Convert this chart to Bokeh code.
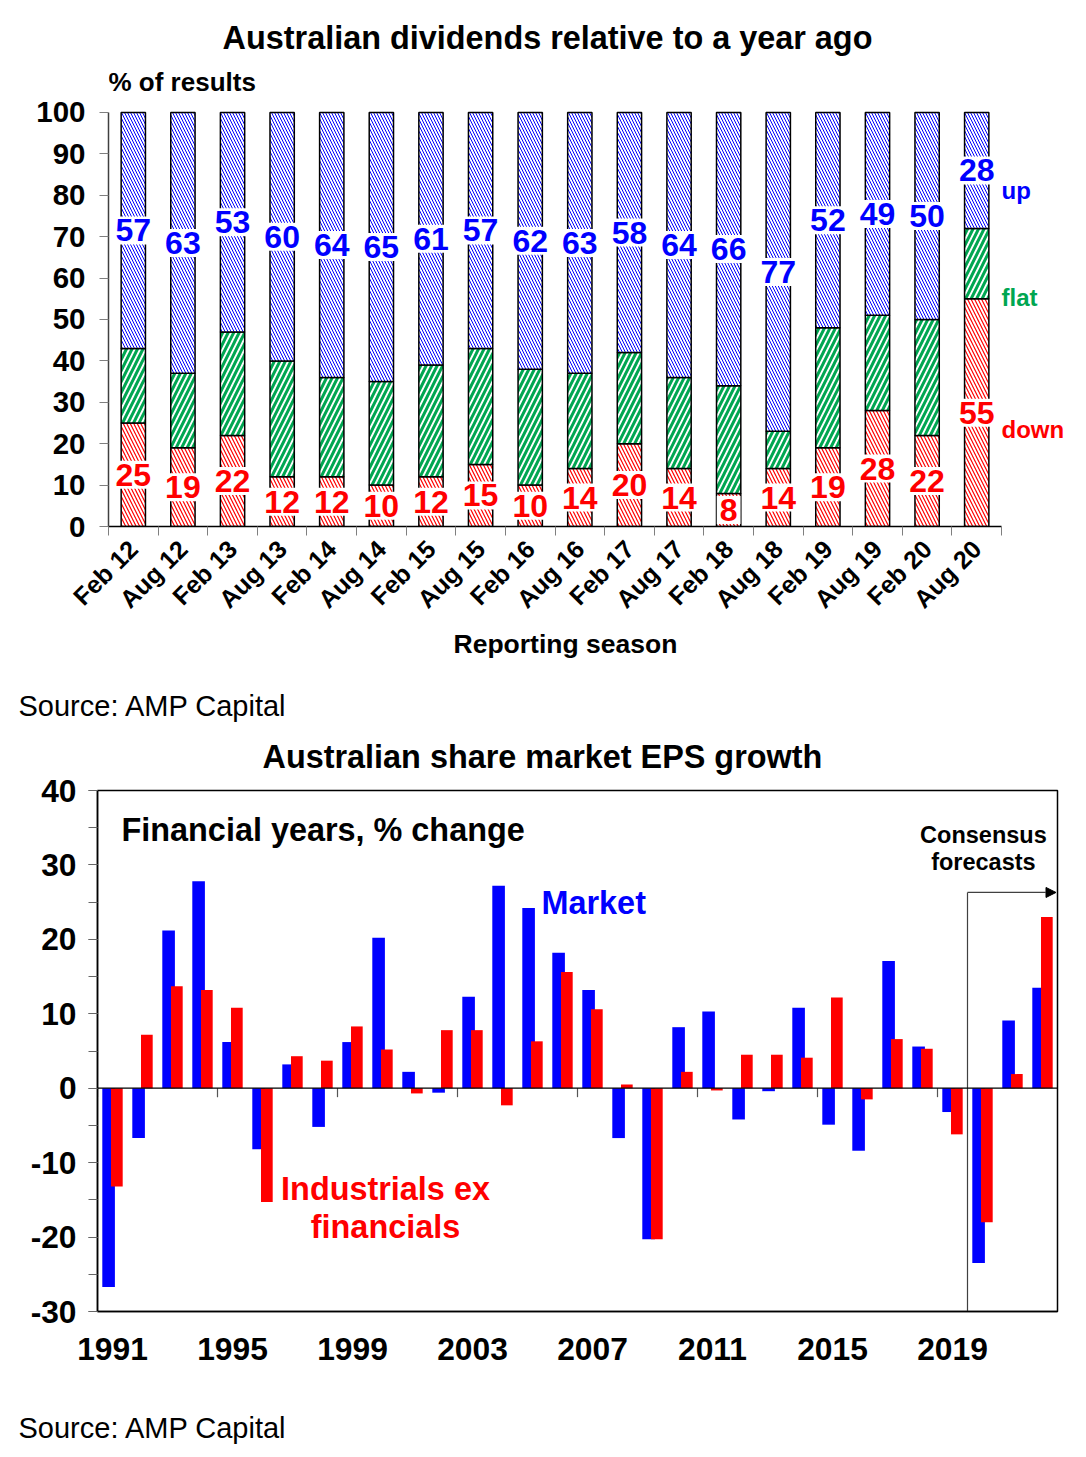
import math
from bokeh.plotting import figure
from bokeh.models import (ColumnDataSource, FixedTicker, Range1d, Title,
                          Span, Arrow, NormalHead)
from bokeh.transform import dodge
from bokeh.core.properties import value
from bokeh.embed import file_html
from bokeh.resources import INLINE

FONT = "Liberation Sans"

# ---------------- Chart 1 data: dividends relative to a year ago ----------------
seasons = ["Feb 12", "Aug 12", "Feb 13", "Aug 13", "Feb 14", "Aug 14", "Feb 15",
           "Aug 15", "Feb 16", "Aug 16", "Feb 17", "Aug 17", "Feb 18", "Aug 18",
           "Feb 19", "Aug 19", "Feb 20", "Aug 20"]
down = [25, 19, 22, 12, 12, 10, 12, 15, 10, 14, 20, 14, 8, 14, 19, 28, 22, 55]
flat = [18, 18, 25, 28, 24, 25, 27, 28, 28, 23, 22, 22, 26, 9, 29, 23, 28, 17]
up = [57, 63, 53, 60, 64, 65, 61, 57, 62, 63, 58, 64, 66, 77, 52, 49, 50, 28]
y_ticks_1 = list(range(0, 101, 10))

# ---------------- Chart 2 data: EPS growth ----------------
years = list(range(1991, 2023))
market = [-26.7, -6.7, 21.2, 27.8, 6.2, -8.2, 3.2, -5.2, 6.2, 20.2, 2.2, -0.6,
          12.3, 27.2, 24.2, 18.2, 13.2, -6.7, -20.3, 8.2, 10.3, -4.2, -0.4, 10.8,
          -4.9, -8.4, 17.1, 5.6, -3.2, -23.5, 9.1, 13.5]
industrials = [-13.2, 7.2, 13.7, 13.2, 10.8, -15.3, 4.3, 3.7, 8.3, 5.2, -0.7, 7.8,
               7.8, -2.3, 6.3, 15.6, 10.6, 0.5, -20.3, 2.2, -0.3, 4.5, 4.5, 4.1,
               12.2, -1.5, 6.6, 5.3, -6.2, -18.0, 1.9, 23.0]
label_years = [1991, 1995, 1999, 2003, 2007, 2011, 2015, 2019]
y_ticks_2 = list(range(-30, 41, 10))
y_minor_2 = list(range(-30, 41, 5))
forecast_start = 2020


def txt(p, x, y, text, size, color="black", bold=True, align="left"):
    p.text(x=[x], y=[y], text=[text], text_color=color, text_font=value(FONT),
           text_font_style="bold" if bold else "normal", text_font_size=size,
           text_align=align, text_baseline="middle")


def clean(p):
    p.xgrid.visible = False
    p.ygrid.visible = False
    p.background_fill_color = "white"
    p.border_fill_color = "white"


# =============================== Figure 1 ===============================
idx = list(range(len(seasons)))
src1 = ColumnDataSource(dict(
    x=idx, down=down, flat=flat, up=up,
    up_y=[d + f + u / 2 for d, f, u in zip(down, flat, up)],
    down_y=[d / 2 for d in down],
    up_txt=[str(u) for u in up],
    down_txt=[str(d) for d in down],
))

x_first = -0.5
x_last = len(seasons) - 0.5
# frame extends above 100 and right of the last bar to hold the titles / side notes
p1 = figure(width=1070, height=660, x_range=Range1d(x_first, 18.85),
            y_range=Range1d(0, 127.05), output_backend="svg", toolbar_location=None,
            title=None, min_border_left=108, min_border_right=2,
            min_border_top=0, min_border_bottom=134)
clean(p1)
p1.outline_line_color = None

p1.vbar_stack(["down", "flat", "up"], x="x", width=0.49, source=src1,
              fill_color="white", line_color="black", line_width=1.5,
              hatch_pattern=["\\", "/", "\\"],
              hatch_color=["#FF0000", "#00A651", "#0000FF"],
              hatch_scale=[7, 11, 6], hatch_weight=[1.2, 3, 1])

p1.text(x="x", y="up_y", text="up_txt", source=src1, text_color="#0000FF",
        text_font=value(FONT), text_font_style="bold", text_font_size="32px",
        text_align="center", text_baseline="middle",
        background_fill_color="white", padding=3)
p1.text(x="x", y="down_y", text="down_txt", source=src1, text_color="#FF0000",
        text_font=value(FONT), text_font_style="bold", text_font_size="32px",
        text_align="center", text_baseline="middle",
        background_fill_color="white", padding=3)

for t, yv, col in [("up", 81.2, "#0000FF"), ("flat", 55.3, "#00A651"),
                   ("down", 23.4, "#FF0000")]:
    txt(p1, x_last, yv, t, "24px", color=col)

txt(p1, 1.8, 117.9, "Australian dividends relative to a year ago", "32.4px")
txt(p1, x_first, 107.3, "% of results", "26px")

yax = p1.yaxis[0]
yax.ticker = FixedTicker(ticks=y_ticks_1)
yax.bounds = (0, 100)
yax.major_label_text_font = FONT
yax.major_label_text_font_size = "29.5px"
yax.major_label_text_font_style = "bold"
yax.major_label_text_color = "black"
yax.major_tick_out = 9
yax.major_tick_in = 0
yax.minor_tick_line_color = None
yax.major_tick_line_color = "#7f7f7f"
yax.axis_line_color = "#404040"
yax.axis_line_width = 1.5
yax.major_label_standoff = 14

xax = p1.xaxis[0]
xax.ticker = FixedTicker(ticks=idx, minor_ticks=[i - 0.5 for i in range(len(seasons) + 1)])
xax.bounds = (x_first, x_last)
xax.major_label_overrides = {i: s for i, s in enumerate(seasons)}
xax.major_tick_line_color = None
xax.major_tick_out = 0
xax.major_tick_in = 0
xax.minor_tick_out = 9
xax.minor_tick_in = 0
xax.minor_tick_line_color = "#7f7f7f"
xax.axis_line_color = "black"
xax.axis_line_width = 1.5
xax.major_label_orientation = math.pi / 4
xax.major_label_text_font = FONT
xax.major_label_text_font_size = "25px"
xax.major_label_text_font_style = "bold"
xax.major_label_text_color = "black"
xax.major_label_standoff = 9

p1.add_layout(Title(text="Reporting season", align="left", offset=345,
                    text_font=FONT, text_font_size="26.5px", text_font_style="bold",
                    text_color="black", standoff=0), "below")

# =============================== Figure 2 ===============================
src2 = ColumnDataSource(dict(year=years, market=market, ind=industrials))

p2 = figure(width=1070, height=711, x_range=Range1d(years[0] - 0.5, years[-1] + 0.5),
            y_range=Range1d(-30, 40), output_backend="svg", toolbar_location=None,
            title=None, min_border_left=97, min_border_right=13,
            min_border_top=130, min_border_bottom=60)
clean(p2)
p2.outline_line_color = "black"
p2.outline_line_width = 1.5

p2.vbar(x=dodge("year", -0.13, range=p2.x_range), top="market", bottom=0,
        width=0.42, source=src2, fill_color="#0000FF", line_color=None)
p2.vbar(x=dodge("year", 0.145, range=p2.x_range), top="ind", bottom=0,
        width=0.39, source=src2, fill_color="#FF0000", line_color=None)

p2.add_layout(Span(location=0, dimension="width", line_color="black", line_width=1.3))
p2.segment(x0=[y - 0.5 for y in label_years], y0=0,
           x1=[y - 0.5 for y in label_years], y1=-1.2,
           line_color="#555555", line_width=1.2)

# forecast bracket
p2.segment(x0=[forecast_start - 0.5], y0=[-30], x1=[forecast_start - 0.5], y1=[26.3],
           line_color="#404040", line_width=1.2)
p2.add_layout(Arrow(end=NormalHead(size=10, fill_color="black", line_color="black"),
                    x_start=forecast_start - 0.5, y_start=26.3,
                    x_end=years[-1] + 0.45, y_end=26.3,
                    line_color="#404040", line_width=1.2))

txt(p2, 1991.3, 34.7, "Financial years, % change", "32.4px")
txt(p2, 2005.3, 24.9, "Market", "32.4px", color="#0000FF")
txt(p2, 2000.1, -13.6, "Industrials ex", "32.4px", color="#FF0000", align="center")
txt(p2, 2000.1, -18.7, "financials", "32.4px", color="#FF0000", align="center")
txt(p2, 2020.03, 34.0, "Consensus", "23.5px", align="center")
txt(p2, 2020.03, 30.4, "forecasts", "23.5px", align="center")

yax2 = p2.yaxis[0]
yax2.ticker = FixedTicker(ticks=y_ticks_2, minor_ticks=y_minor_2)
yax2.major_label_overrides = {t: str(t) for t in y_ticks_2}
yax2.major_label_text_font = FONT
yax2.major_label_text_font_size = "31.7px"
yax2.major_label_text_font_style = "bold"
yax2.major_label_text_color = "black"
yax2.major_tick_out = 9
yax2.major_tick_in = 0
yax2.minor_tick_out = 9
yax2.minor_tick_in = 0
yax2.major_tick_line_color = "#666666"
yax2.minor_tick_line_color = "#666666"
yax2.axis_line_color = "black"
yax2.axis_line_width = 1.5
yax2.major_label_standoff = 12

xax2 = p2.xaxis[0]
xax2.ticker = FixedTicker(ticks=label_years)
xax2.major_tick_line_color = None
xax2.minor_tick_line_color = None
xax2.major_tick_out = 0
xax2.major_tick_in = 0
xax2.axis_line_color = "black"
xax2.axis_line_width = 1.5
xax2.major_label_text_font = FONT
xax2.major_label_text_font_size = "31.8px"
xax2.major_label_text_font_style = "bold"
xax2.major_label_text_color = "black"
xax2.major_label_standoff = 26

# titles above chart 2: EPS title (closest), then chart-1 source line
p2.add_layout(Title(text="Australian share market EPS growth", align="left", offset=165,
                    text_font=FONT, text_font_size="32.4px", text_font_style="bold",
                    text_color="black", standoff=31), "above")
p2.add_layout(Title(text="Source: AMP Capital", align="left", offset=-79,
                    text_font=FONT, text_font_size="29px", text_font_style="normal",
                    text_color="black", standoff=0), "above")

# =============================== Footer (source of chart 2) ===============================
p3 = figure(width=1070, height=79, x_range=Range1d(0, 1070), y_range=Range1d(79, 0),
            output_backend="svg", toolbar_location=None, title=None,
            x_axis_location=None, y_axis_location=None,
            min_border_left=0, min_border_right=0, min_border_top=0, min_border_bottom=0)
p3.outline_line_color = None
p3.background_fill_color = "white"
p3.border_fill_color = "white"
p3.grid.visible = False
txt(p3, 18, 56, "Source: AMP Capital", "29px", bold=False)

open("out.html", "w").write(file_html([p1, p2, p3], INLINE))
